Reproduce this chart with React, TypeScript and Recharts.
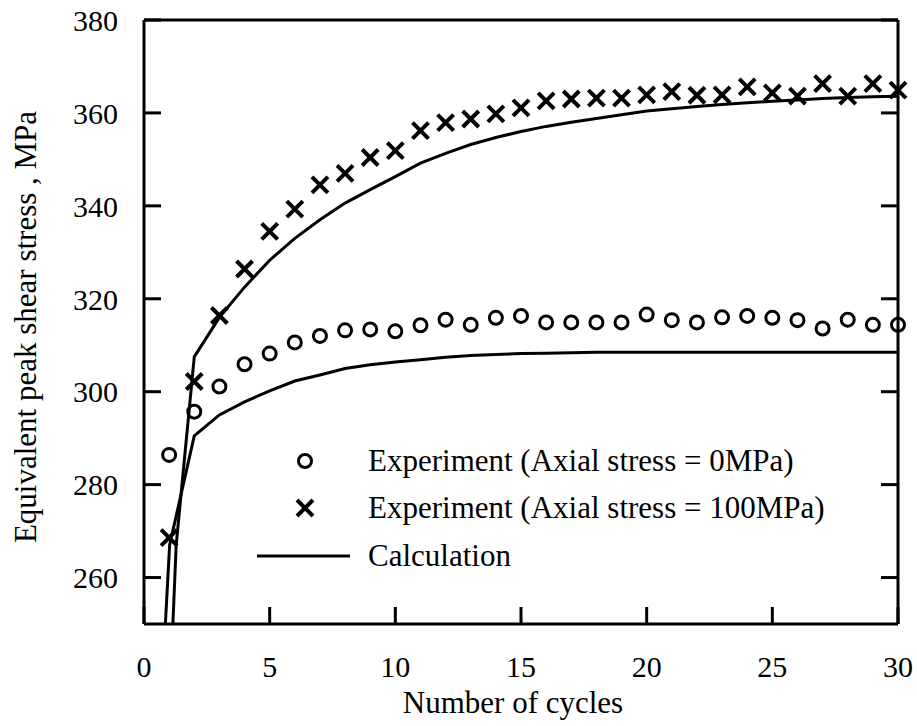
import React from "react";
import { ComposedChart, Line, Scatter, XAxis, YAxis } from "recharts";

// cycle numbers for the experiment points
const cycles = [1, 2, 3, 4, 5, 6, 7, 8, 9, 10, 11, 12, 13, 14, 15, 16, 17, 18, 19, 20, 21, 22, 23, 24, 25, 26, 27, 28, 29, 30];

// experiment, axial stress = 0MPa (circles)
const exp0 = [
  286.4, 295.7, 301.1, 305.9, 308.2, 310.6, 312.0, 313.2, 313.4, 313.0, 314.3, 315.5, 314.4, 315.9, 316.3,
  314.9, 314.9, 314.9, 314.9, 316.6, 315.4, 314.9, 316.0, 316.3, 315.9, 315.4, 313.6, 315.5, 314.4, 314.4,
];

// experiment, axial stress = 100MPa (crosses)
const exp100 = [
  268.6, 302.2, 316.4, 326.4, 334.5, 339.3, 344.5, 347.0, 350.4, 351.9, 356.2, 357.9, 358.7, 359.8, 361.1,
  362.6, 363.0, 363.2, 363.2, 363.9, 364.6, 363.8, 363.9, 365.6, 364.3, 363.6, 366.3, 363.6, 366.3, 364.9,
];

// calculation curves
const calc0X = [0.8, 1.02, 2, 3, 4, 5, 6, 7, 8, 9, 10, 11, 12, 13, 14, 15, 16, 17, 18, 19, 20, 21, 22, 23, 24, 25, 26, 27, 28, 29, 30];
const calc0Y = [
  245, 267, 290.5, 295, 297.8, 300.2, 302.3, 303.6, 305, 305.8, 306.4, 306.9, 307.4, 307.8, 308, 308.2,
  308.3, 308.4, 308.5, 308.5, 308.5, 308.5, 308.5, 308.5, 308.5, 308.5, 308.5, 308.5, 308.5, 308.5, 308.5,
];
const calc100X = [1.1, 1.28, 2, 3, 4, 5, 6, 7, 8, 9, 10, 11, 12, 13, 14, 15, 16, 17, 18, 19, 20, 21, 22, 23, 24, 25, 26, 27, 28, 29, 30];
const calc100Y = [
  243.5, 267, 307.5, 316, 322.5, 328.3, 333, 337, 340.6, 343.5, 346.3, 349.2, 351.3, 353.2, 354.7, 356,
  357.1, 358, 358.8, 359.6, 360.4, 360.9, 361.4, 361.8, 362.2, 362.5, 362.8, 363.1, 363.3, 363.5, 363.6,
];

const xTicks = [0, 5, 10, 15, 20, 25, 30];
const yTicks = [260, 280, 300, 320, 340, 360, 380];

const exp0Data = cycles.map((x, i) => ({ x, y: exp0[i] }));
const exp100Data = cycles.map((x, i) => ({ x, y: exp100[i] }));
const calc0Data = calc0X.map((x, i) => ({ x, y: calc0Y[i] }));
const calc100Data = calc100X.map((x, i) => ({ x, y: calc100Y[i] }));

const W = 917;
const H = 726;
const TOP = 20;
const LEFT = 144;
const RIGHT = 898;
const BOTTOM = 624;
const TICK = 17;
const FONT = '"Liberation Serif", "Times New Roman", serif';
const ink = { stroke: "#000", strokeWidth: 3 };
const axisLine = { stroke: "#000", strokeWidth: 3, style: ink };

// tick renderers: inward tick mark + label outside the frame
const BottomTick = (p: any) => (
  <g>
    <line x1={p.x} x2={p.x} y1={BOTTOM} y2={BOTTOM - TICK} style={ink} />
    <text x={p.x} y={677} textAnchor="middle" style={{ fontFamily: FONT, fontSize: 30, fill: "#000" }}>
      {p.payload.value}
    </text>
  </g>
);

const TopTick = (p: any) => <line x1={p.x} x2={p.x} y1={TOP} y2={TOP + TICK} style={ink} />;

const LeftTick = (p: any) => (
  <g>
    <line x1={LEFT} x2={LEFT + TICK} y1={p.y} y2={p.y} style={ink} />
    <text x={118} y={p.y} dy="0.36em" textAnchor="end" style={{ fontFamily: FONT, fontSize: 30, fill: "#000" }}>
      {p.payload.value}
    </text>
  </g>
);

const RightTick = (p: any) => <line x1={RIGHT - TICK} x2={RIGHT} y1={p.y} y2={p.y} style={ink} />;

const Ring = (p: any) => (
  <circle cx={p.cx} cy={p.cy} r={6.5} fill="none" stroke="#000" strokeWidth={3} />
);

const Cross = (p: any) => (
  <path
    d={`M${p.cx - 8},${p.cy - 8}L${p.cx + 8},${p.cy + 8}M${p.cx - 8},${p.cy + 8}L${p.cx + 8},${p.cy - 8}`}
    stroke="#000"
    strokeWidth={4}
    fill="none"
  />
);

export default function App() {
  return (
    <div style={{ position: "absolute", left: 0, top: 0, width: W, height: H, background: "#fff" }}>
      <ComposedChart width={W} height={H} margin={{ top: TOP - 1, right: W - RIGHT - 1, left: 0, bottom: 0 }}>
        <XAxis
          dataKey="x"
          type="number"
          domain={[0, 30]}
          ticks={xTicks}
          height={H - BOTTOM}
          axisLine={axisLine}
          tickLine={false}
          tick={BottomTick}
          interval={0}
        />
        <XAxis
          xAxisId="top"
          orientation="top"
          dataKey="x"
          type="number"
          domain={[0, 30]}
          ticks={xTicks}
          height={1}
          axisLine={axisLine}
          tickLine={false}
          tick={TopTick}
          interval={0}
        />
        <YAxis
          dataKey="y"
          type="number"
          domain={[250, 380]}
          ticks={yTicks}
          allowDataOverflow
          width={LEFT}
          axisLine={axisLine}
          tickLine={false}
          tick={LeftTick}
          interval={0}
        />
        <YAxis
          yAxisId="right"
          orientation="right"
          dataKey="y"
          type="number"
          domain={[250, 380]}
          ticks={yTicks}
          width={1}
          axisLine={axisLine}
          tickLine={false}
          tick={RightTick}
          interval={0}
        />
        <Line data={calc0Data} dataKey="y" type="linear" stroke="#000" strokeWidth={3} dot={false} isAnimationActive={false} />
        <Line data={calc100Data} dataKey="y" type="linear" stroke="#000" strokeWidth={3} dot={false} isAnimationActive={false} />
        <Scatter data={exp0Data} yAxisId="right" dataKey="y" shape={Ring} isAnimationActive={false} />
        <Scatter data={exp100Data} yAxisId="right" dataKey="y" shape={Cross} isAnimationActive={false} />
      </ComposedChart>
      <svg width={W} height={H} style={{ position: "absolute", left: 0, top: 0, pointerEvents: "none" }}>
        <circle cx={305} cy={461} r={6.5} fill="none" stroke="#000" strokeWidth={3} />
        <path d="M297,500L313,516M297,516L313,500" stroke="#000" strokeWidth={4} />
        <line x1={257} x2={350} y1={556} y2={556} stroke="#000" strokeWidth={3} />
        <g style={{ fontFamily: FONT, fontSize: 31 }} fill="#000">
          <text x={368} y={471}>Experiment (Axial stress = 0MPa)</text>
          <text x={368} y={518}>Experiment (Axial stress = 100MPa)</text>
          <text x={368} y={566}>Calculation</text>
        </g>
        <text x={513} y={713} textAnchor="middle" style={{ fontFamily: FONT, fontSize: 31 }} fill="#000">
          Number of cycles
        </text>
        <text
          x={25}
          y={327}
          transform="rotate(-90, 25, 327)"
          textAnchor="middle"
          dominantBaseline="central"
          style={{ fontFamily: FONT, fontSize: 31 }}
          fill="#000"
        >
          Equivalent peak shear stress , MPa
        </text>
      </svg>
    </div>
  );
}
